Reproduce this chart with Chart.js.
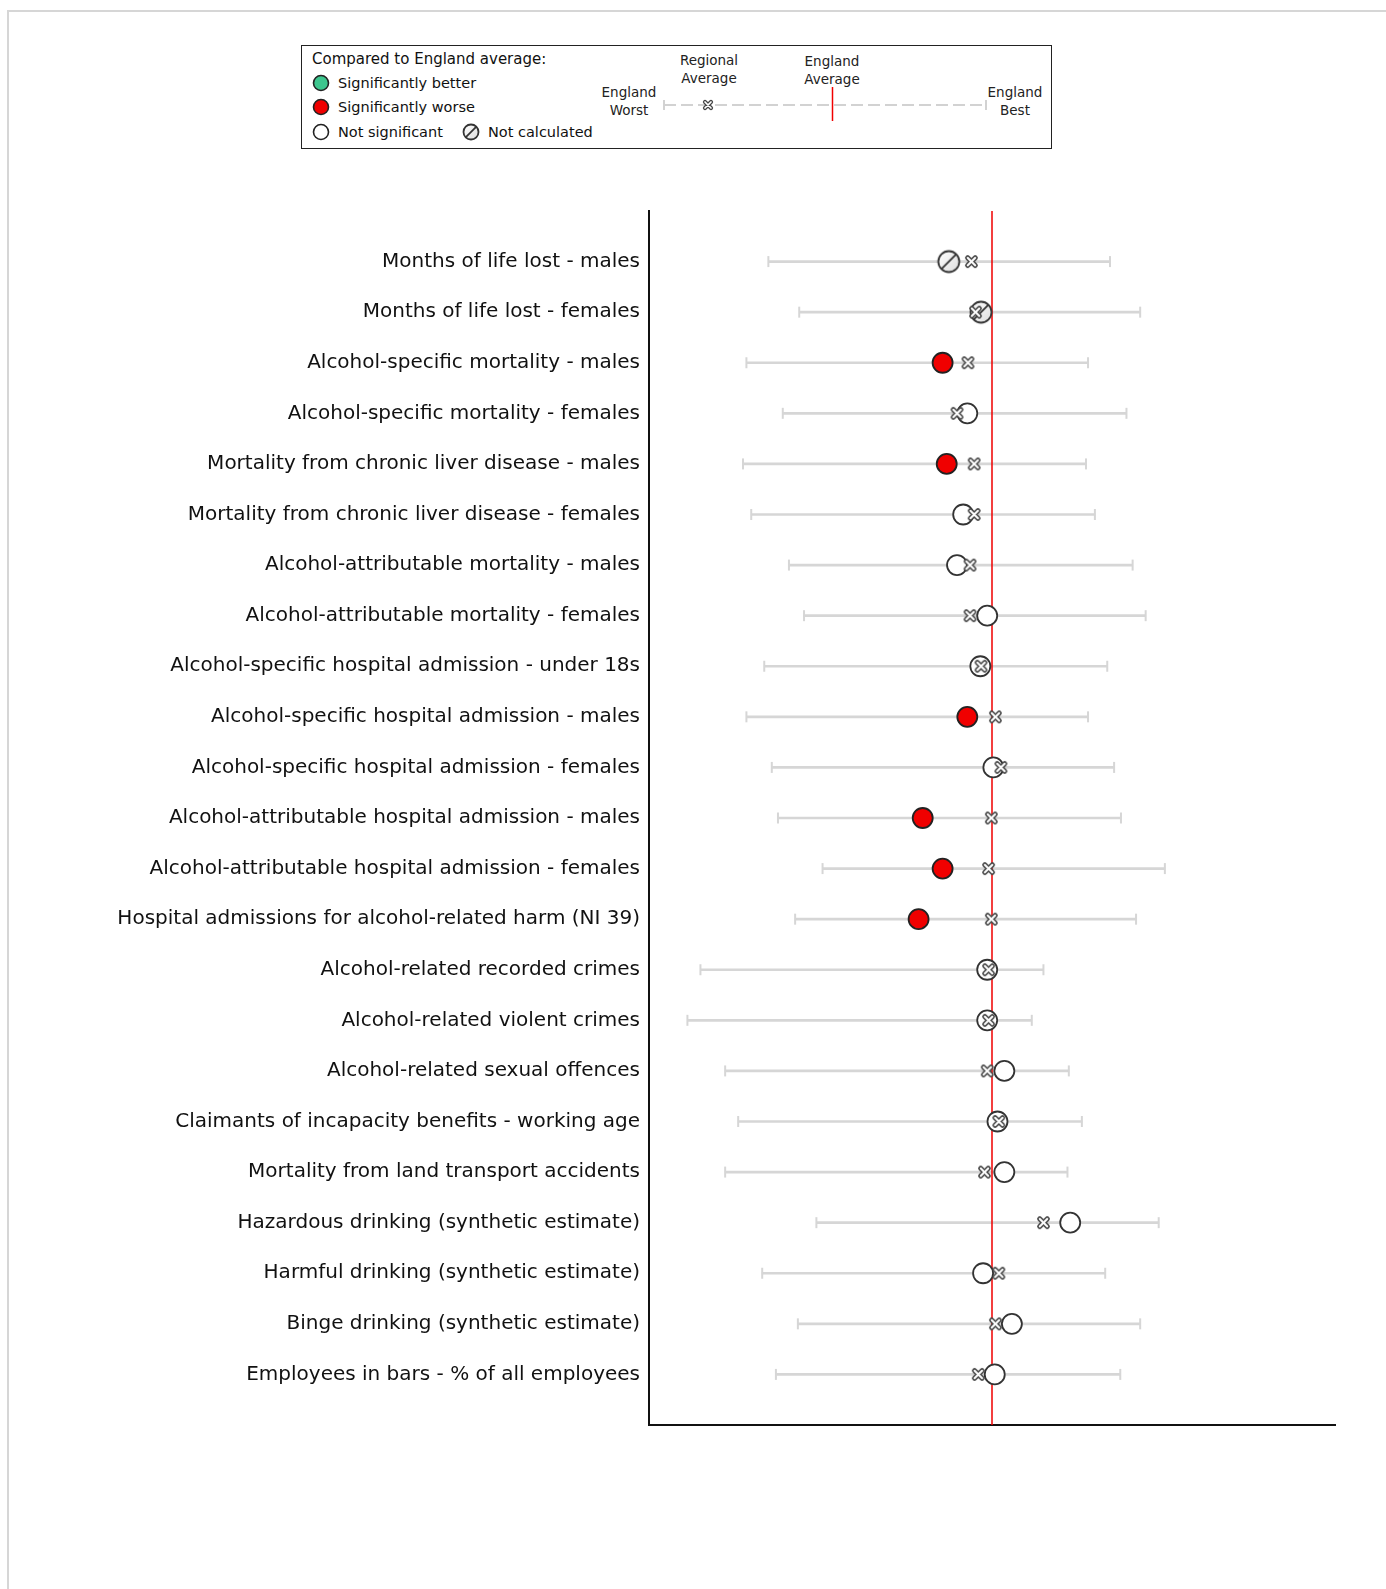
<!DOCTYPE html>
<html>
<head>
<meta charset="utf-8">
<script src="https://cdn.jsdelivr.net/npm/chart.js@4.4.1/dist/chart.umd.min.js"></script>
<style>
  body { margin: 0; background: #fff; font-family: 'DejaVu Sans', sans-serif; }
  #frame { position: absolute; left: 7px; top: 10px; width: 1379px; height: 1579px;
           border-left: 2px solid #d6d6d6; border-top: 2px solid #d6d6d6; box-sizing: border-box; }
  #chart { position: absolute; left: 0; top: 0; }
  #key { position: absolute; left: 301px; top: 45px; width: 751px; height: 104px;
         border: 1.5px solid #222; box-sizing: border-box; background: #fff; color: #111; font-size: 14.5px; }
  .t { position: absolute; white-space: nowrap; line-height: 18px; transform: translateY(-50%); }
  .c { position: absolute; white-space: nowrap; text-align: center; font-size: 13.5px; line-height: 18px;
       color: #222; transform: translate(-50%, -9px); }
  .ico { position: absolute; }
</style>
</head>
<body>
<div id="frame"></div>
<canvas id="chart" width="1386" height="1589"></canvas>

<div id="key">
  <div class="t" style="left:10px;top:13px;font-size:15px;">Compared to England average:</div>
  <canvas class="ico" id="icoBetter" width="20" height="20" style="left:9px;top:27px;"></canvas>
  <div class="t" style="left:36px;top:37px;">Significantly better</div>
  <canvas class="ico" id="icoWorse" width="20" height="20" style="left:9px;top:51px;"></canvas>
  <div class="t" style="left:36px;top:61px;">Significantly worse</div>
  <canvas class="ico" id="icoNs" width="20" height="20" style="left:9px;top:76px;"></canvas>
  <div class="t" style="left:36px;top:86px;">Not significant</div>
  <canvas class="ico" id="icoNc" width="20" height="20" style="left:159px;top:76px;"></canvas>
  <div class="t" style="left:186px;top:86px;">Not calculated</div>

  <div class="c" style="left:327px;top:46px;">England<br>Worst</div>
  <div class="c" style="left:407px;top:14px;">Regional<br>Average</div>
  <div class="c" style="left:530px;top:15px;">England<br>Average</div>
  <div class="c" style="left:713px;top:46px;">England<br>Best</div>
  <canvas class="ico" id="keySpine" width="340" height="40" style="left:352px;top:38px;"></canvas>
</div>

<script>
const categories = [
  'Months of life lost - males',
  'Months of life lost - females',
  'Alcohol-specific mortality - males',
  'Alcohol-specific mortality - females',
  'Mortality from chronic liver disease - males',
  'Mortality from chronic liver disease - females',
  'Alcohol-attributable mortality - males',
  'Alcohol-attributable mortality - females',
  'Alcohol-specific hospital admission - under 18s',
  'Alcohol-specific hospital admission - males',
  'Alcohol-specific hospital admission - females',
  'Alcohol-attributable hospital admission - males',
  'Alcohol-attributable hospital admission - females',
  'Hospital admissions for alcohol-related harm (NI 39)',
  'Alcohol-related recorded crimes',
  'Alcohol-related violent crimes',
  'Alcohol-related sexual offences',
  'Claimants of incapacity benefits - working age',
  'Mortality from land transport accidents',
  'Hazardous drinking (synthetic estimate)',
  'Harmful drinking (synthetic estimate)',
  'Binge drinking (synthetic estimate)',
  'Employees in bars - % of all employees'
];

// spine positions (0 = left edge of plot, 100 = right edge)
const englandWorst    = [17.4, 21.9, 14.2, 19.5, 13.7, 14.9, 20.4, 22.6, 16.8, 14.2, 17.9, 18.8, 25.3, 21.3, 7.5, 5.6, 11.1, 13.0, 11.1, 24.4, 16.5, 21.7, 18.5];
const englandBest     = [67.2, 71.6, 64.0, 69.6, 63.7, 65.0, 70.5, 72.4, 66.8, 64.0, 67.8, 68.8, 75.2, 71.0, 57.5, 55.8, 61.2, 63.1, 61.0, 74.3, 66.5, 71.6, 68.7];
const regionalAverage = [47.0, 47.6, 46.5, 44.9, 47.4, 47.4, 46.8, 46.8, 48.4, 50.5, 51.3, 49.9, 49.5, 49.9, 49.5, 49.5, 49.3, 51.0, 48.9, 57.5, 51.0, 50.5, 48.0];
const localValue      = [43.7, 48.4, 42.8, 46.4, 43.4, 45.8, 44.9, 49.3, 48.3, 46.4, 50.2, 39.9, 42.8, 39.3, 49.3, 49.3, 51.8, 50.8, 51.8, 61.4, 48.7, 52.9, 50.4];
const significance    = ['nc', 'nc', 'worse', 'ns', 'worse', 'ns', 'ns', 'ns', 'ns', 'worse', 'ns', 'worse', 'worse', 'worse',
                         'ns', 'ns', 'ns', 'ns', 'ns', 'ns', 'ns', 'ns', 'ns'];
const englandAverage = 50;

const RED = '#f00000';
const GREEN = '#3dc68e';
const RANGE_GREY = '#d6d6d6';

// small X-shaped regional marker
function regionalIcon(size) {
  const c = document.createElement('canvas');
  c.width = c.height = size;
  const g = c.getContext('2d');
  const m = size / 2, a = size * 0.25;
  g.lineCap = 'round';
  g.beginPath();
  g.moveTo(m - a, m - a); g.lineTo(m + a, m + a);
  g.moveTo(m + a, m - a); g.lineTo(m - a, m + a);
  g.strokeStyle = '#444';
  g.lineWidth = size * 0.35;
  g.stroke();
  g.strokeStyle = '#fff';
  g.lineWidth = size * 0.14;
  g.stroke();
  return c;
}

// circle with slash = not calculated
function drawNotCalc(g, m, r) {
  const grad = g.createLinearGradient(m - r, m - r, m + r, m + r);
  grad.addColorStop(0, '#ffffff');
  grad.addColorStop(1, '#dddddd');
  g.beginPath();
  g.arc(m, m, r, 0, Math.PI * 2);
  g.fillStyle = grad;
  g.fill();
  g.lineWidth = 1.8;
  g.strokeStyle = '#333';
  g.stroke();
  g.beginPath();
  g.moveTo(m - r * 0.68, m + r * 0.68);
  g.lineTo(m + r * 0.68, m - r * 0.68);
  g.stroke();
}
function notCalcIcon(size, r) {
  const c = document.createElement('canvas');
  c.width = c.height = size;
  drawNotCalc(c.getContext('2d'), size / 2, r);
  return c;
}

function drawDot(id, fill, stroke) {
  const g = document.getElementById(id).getContext('2d');
  g.beginPath();
  g.arc(10, 10, 7.5, 0, Math.PI * 2);
  g.fillStyle = fill;
  g.fill();
  g.lineWidth = 1.6;
  g.strokeStyle = stroke;
  g.stroke();
}

// legend key
drawDot('icoBetter', GREEN, '#222');
drawDot('icoWorse', RED, '#222');
drawDot('icoNs', '#fff', '#222');
drawNotCalc(document.getElementById('icoNc').getContext('2d'), 10, 7.5);
(function () {
  const g = document.getElementById('keySpine').getContext('2d');
  g.strokeStyle = '#d2d2d2';
  g.lineWidth = 2;
  g.setLineDash([12, 5]);
  g.beginPath(); g.moveTo(10, 21); g.lineTo(332, 21); g.stroke();
  g.setLineDash([]);
  g.beginPath(); g.moveTo(10, 16); g.lineTo(10, 26); g.moveTo(332, 16); g.lineTo(332, 26); g.stroke();
  g.strokeStyle = RED;
  g.lineWidth = 1.5;
  g.beginPath(); g.moveTo(178.5, 3); g.lineTo(178.5, 37); g.stroke();
  g.drawImage(regionalIcon(12), 48, 15);
})();

const regionalImg = regionalIcon(15);
const notCalcImg = notCalcIcon(26, 10.5);

const rows = categories.map((c, i) => i + 1);

new Chart(document.getElementById('chart'), {
  type: 'bar',
  data: {
    datasets: [
      {
        type: 'bar',
        indexAxis: 'y',
        data: rows.map((r, i) => ({ x: [englandWorst[i], englandBest[i]], y: r })),
        backgroundColor: RANGE_GREY,
        barThickness: 2,
        order: 5
      },
      {
        type: 'scatter',
        data: rows.map((r, i) => ({ x: englandWorst[i], y: r }))
          .concat(rows.map((r, i) => ({ x: englandBest[i], y: r }))),
        pointStyle: 'line',
        rotation: 90,
        radius: 5.5,
        borderColor: RANGE_GREY,
        borderWidth: 2,
        order: 4
      },
      {
        type: 'line',
        data: [{ x: englandAverage, y: 0 }, { x: englandAverage, y: 24 }],
        borderColor: RED,
        borderWidth: 1.5,
        pointRadius: 0,
        order: 3
      },
      {
        type: 'scatter',
        data: rows.map((r, i) => ({ x: localValue[i], y: r })),
        pointStyle: ctx => significance[ctx.dataIndex] === 'nc' ? notCalcImg : 'circle',
        radius: 10,
        backgroundColor: ctx => significance[ctx.dataIndex] === 'worse' ? RED
          : significance[ctx.dataIndex] === 'better' ? GREEN : '#fff',
        borderColor: ctx => significance[ctx.dataIndex] === 'worse' ? '#222' : '#333',
        borderWidth: 1.8,
        order: 2
      },
      {
        type: 'scatter',
        data: rows.map((r, i) => ({ x: regionalAverage[i], y: r })),
        pointStyle: regionalImg,
        order: 1
      }
    ]
  },
  options: {
    responsive: false,
    animation: false,
    layout: { padding: { top: 211, right: 51, bottom: 164, left: 0 } },
    plugins: { legend: { display: false }, tooltip: { enabled: false } },
    scales: {
      x: {
        type: 'linear',
        min: 0,
        max: 100,
        offset: false,
        grid: { display: false },
        border: { display: true, color: '#111', width: 2 },
        ticks: { display: false },
        afterFit: s => { s.height = 0; }
      },
      y: {
        type: 'linear',
        min: 0,
        max: 24,
        reverse: true,
        offset: false,
        grid: { display: false },
        border: { display: true, color: '#111', width: 2 },
        afterBuildTicks: s => { s.ticks = rows.map(r => ({ value: r })); },
        ticks: {
          autoSkip: false,
          padding: 1,
          color: '#111',
          font: { family: 'DejaVu Sans', size: 20 },
          callback: v => categories[v - 1] || ''
        },
        afterFit: s => { s.width = 649; }
      }
    }
  }
});
</script>
</body>
</html>
